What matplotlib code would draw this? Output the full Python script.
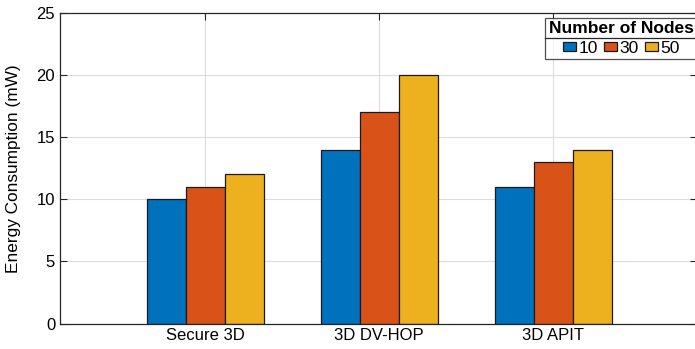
import matplotlib
matplotlib.use("Agg")
import matplotlib.pyplot as plt
import numpy as np
from matplotlib.lines import Line2D

categories = ["Secure 3D", "3D DV-HOP", "3D APIT"]
series_names = ["10", "30", "50"]
values_10 = [10, 14, 11]
values_30 = [11, 17, 13]
values_50 = [12, 20, 14]
yticks = [0, 5, 10, 15, 20, 25]

colors = ["#0072BD", "#D95319", "#EDB120"]
plt.rcParams['font.family'] = ['Liberation Sans', 'DejaVu Sans']

W, H = 695, 349
fig = plt.figure(figsize=(W / 100, H / 100), dpi=100)
ax = fig.add_axes([60 / W, 25.5 / H, (697 - 60) / W, (323.5 - 13) / H])

x = np.arange(1, len(categories) + 1)
bw = 0.224
series = [values_10, values_30, values_50]
for i, (vals, name) in enumerate(zip(series, series_names)):
    ax.bar(x + (i - 1) * bw, vals, width=bw, color=colors[i], edgecolor="#1a1a1a",
           linewidth=0.9, label=name, zorder=3)

ax.set_xlim(0.165, 3.826)
ax.set_ylim(0, 25)
ax.set_xticks(x)
ax.set_xticklabels(categories)
ax.set_yticks(yticks)
ax.set_ylabel("Energy Consumption (mW)", fontsize=12.4, labelpad=11)
ax.grid(True, color="#dcdcdc", linewidth=0.8, zorder=0)
ax.tick_params(direction="in", length=5, width=0.8, colors="#262626", labelsize=12,
               top=True, right=True, labelcolor="black")
for s in ax.spines.values():
    s.set_color("#262626")
    s.set_linewidth(0.9)
    s.set_zorder(5)

leg = ax.legend(ncol=3, title="Number of Nodes", loc="upper right",
                bbox_to_anchor=(1.0, 0.984), fontsize=12.5, handlelength=0.75,
                handleheight=0.45, handletextpad=0.15, columnspacing=0.35,
                borderpad=0.2, labelspacing=0.2, frameon=True, fancybox=False,
                edgecolor="#262626",
                title_fontproperties={"weight": "bold", "size": 12.5}, borderaxespad=0.0)
leg.get_frame().set_linewidth(0.9)
leg.set_zorder(10)
leg._legend_box.sep = 3

fig.canvas.draw()
lb = leg.get_window_extent()
tb = leg.get_title().get_window_extent()
ysep = (tb.y0 - 2) / (H)
line = Line2D([lb.x0 / W, lb.x1 / W], [ysep, ysep], transform=fig.transFigure,
              color="#262626", linewidth=0.9, zorder=11)
fig.add_artist(line)

fig.savefig("out.png", dpi=100)
